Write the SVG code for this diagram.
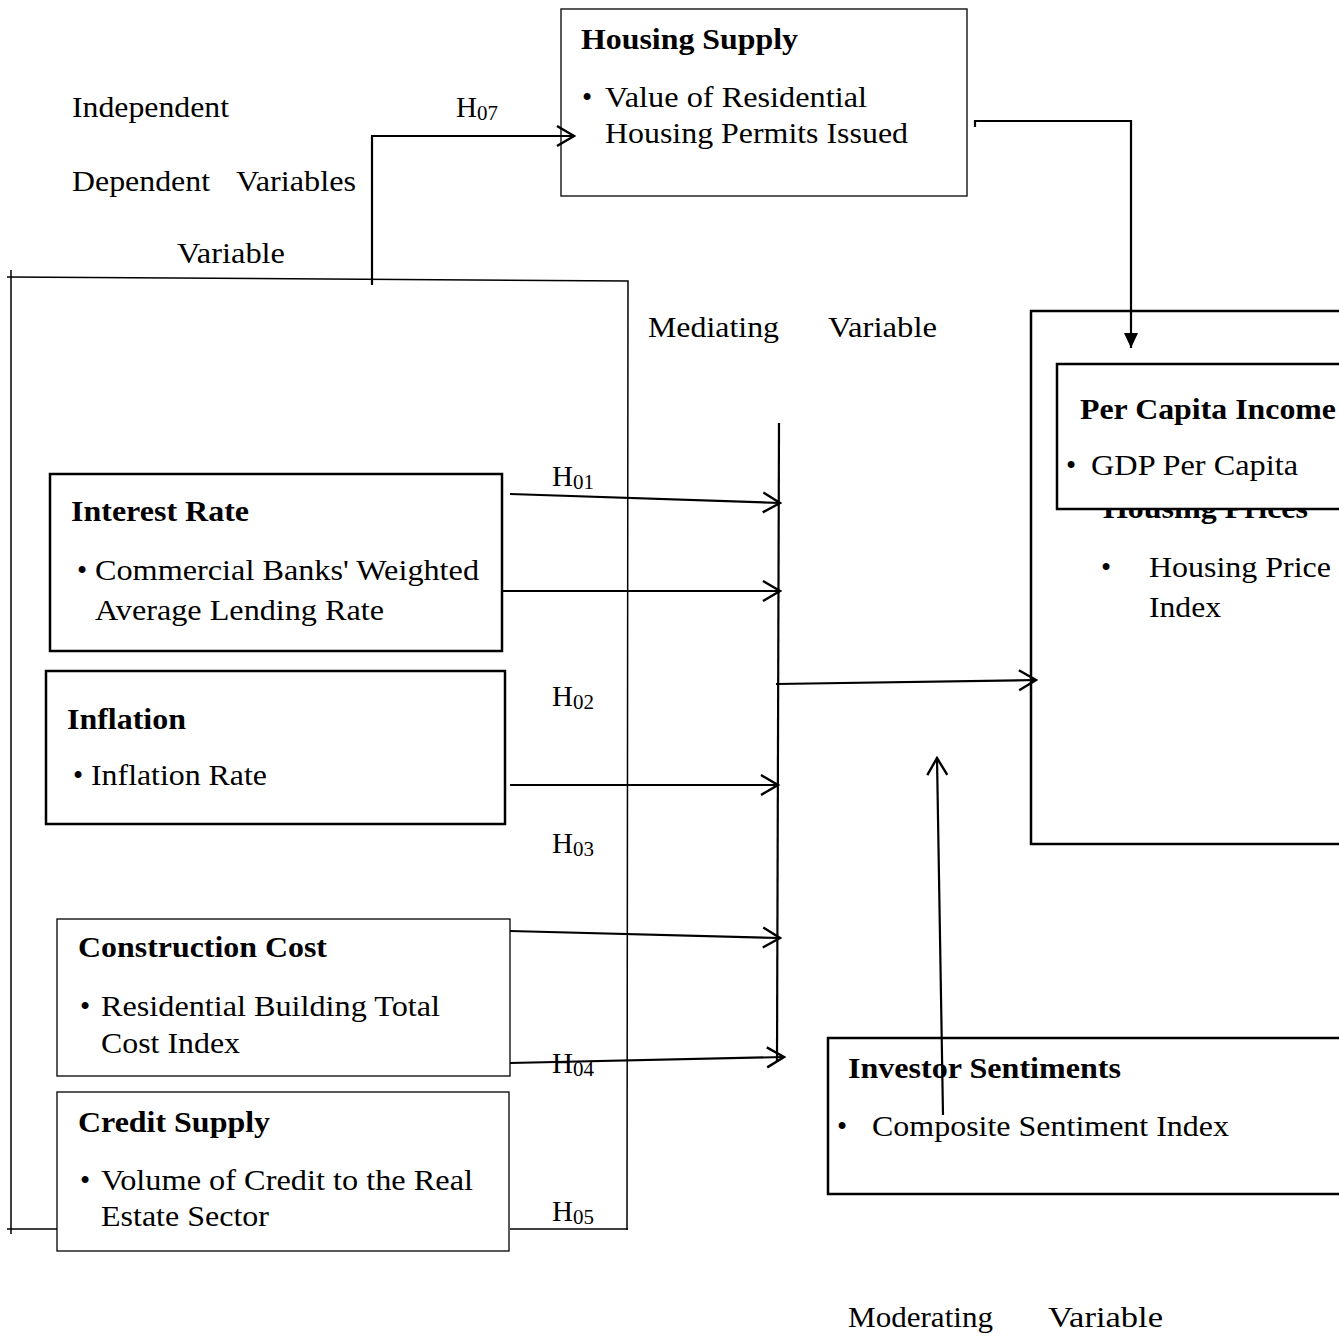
<svg xmlns="http://www.w3.org/2000/svg" width="1339" height="1336" viewBox="0 0 1339 1336">
<style>
text{font-family:"Liberation Serif","Times New Roman",serif;font-size:29px;fill:#000}
.b{font-weight:bold}
.sub{font-size:21px}
.thick{fill:#fff;stroke:#000;stroke-width:2.5}
.thin{fill:#fff;stroke:#000;stroke-width:1.3}
.frame{fill:none;stroke:#000;stroke-width:1.5}
.arr{fill:none;stroke:#000;stroke-width:2.2}
</style>
<defs>
<marker id="open" viewBox="-20 -12 22 24" markerWidth="22" markerHeight="24" refX="0" refY="0" orient="auto" markerUnits="userSpaceOnUse">
<path d="M-17,-10 L0,0 L-17,10" fill="none" stroke="#000" stroke-width="2.4"/>
</marker>
<marker id="fill" viewBox="-16 -8 17 16" markerWidth="17" markerHeight="16" refX="0" refY="0" orient="auto" markerUnits="userSpaceOnUse">
<path d="M-15,-7 L0,0 L-15,7 Z" fill="#000"/>
</marker>
</defs>
<rect width="1339" height="1336" fill="#fff"/>

<g id="labels">
<text x="72" y="117" textLength="157" lengthAdjust="spacingAndGlyphs">Independent</text>
<text x="72" y="191" textLength="138" lengthAdjust="spacingAndGlyphs">Dependent</text>
<text x="236" y="191" textLength="120" lengthAdjust="spacingAndGlyphs">Variables</text>
<text x="177" y="263" textLength="108" lengthAdjust="spacingAndGlyphs">Variable</text>
<text x="648" y="337" textLength="131" lengthAdjust="spacingAndGlyphs">Mediating</text>
<text x="828" y="337" textLength="109" lengthAdjust="spacingAndGlyphs">Variable</text>
<text x="848" y="1327" textLength="145" lengthAdjust="spacingAndGlyphs">Moderating</text>
<text x="1048" y="1327" textLength="115" lengthAdjust="spacingAndGlyphs">Variable</text>
<text x="456" y="117">H<tspan class="sub" dy="3">07</tspan></text>
<text x="552" y="486">H<tspan class="sub" dy="3">01</tspan></text>
<text x="552" y="706">H<tspan class="sub" dy="3">02</tspan></text>
<text x="552" y="853">H<tspan class="sub" dy="3">03</tspan></text>
<text x="552" y="1221">H<tspan class="sub" dy="3">05</tspan></text>
</g>

<g id="frame">
<path class="frame" d="M7,277 L628,281 L627,1230"/>
<path class="frame" d="M11,270 L11,1234"/>
<path class="frame" d="M7,1229 L57,1229"/>
<path class="frame" d="M510,1229 L628,1229"/>
</g>

<g id="housing-prices">
<rect class="thick" x="1031" y="311" width="320" height="533"/>
<text class="b" x="1103" y="518" textLength="205" lengthAdjust="spacingAndGlyphs">Housing Prices</text>
<text x="1101" y="577">•</text>
<text x="1149" y="577" textLength="182" lengthAdjust="spacingAndGlyphs">Housing Price</text>
<text x="1149" y="617" textLength="72" lengthAdjust="spacingAndGlyphs">Index</text>
</g>

<g id="per-capita-income">
<rect class="thick" x="1057" y="364" width="300" height="145"/>
<text class="b" x="1080" y="419" textLength="256" lengthAdjust="spacingAndGlyphs">Per Capita Income</text>
<text x="1066" y="475">•</text>
<text x="1091" y="475" textLength="207" lengthAdjust="spacingAndGlyphs">GDP Per Capita</text>
</g>

<g id="housing-supply">
<rect class="thin" x="561" y="9" width="406" height="187"/>
<text class="b" x="581" y="49" textLength="217" lengthAdjust="spacingAndGlyphs">Housing Supply</text>
<text x="582" y="107">•</text>
<text x="605" y="107" textLength="262" lengthAdjust="spacingAndGlyphs">Value of Residential</text>
<text x="605" y="143" textLength="303" lengthAdjust="spacingAndGlyphs">Housing Permits Issued</text>
</g>

<g id="interest-rate">
<rect class="thick" x="50" y="474" width="452" height="177"/>
<text class="b" x="71" y="521" textLength="178" lengthAdjust="spacingAndGlyphs">Interest Rate</text>
<text x="77" y="580">•</text>
<text x="95" y="580" textLength="384" lengthAdjust="spacingAndGlyphs">Commercial Banks' Weighted</text>
<text x="95" y="620" textLength="289" lengthAdjust="spacingAndGlyphs">Average Lending Rate</text>
</g>

<g id="inflation">
<rect class="thick" x="46" y="671" width="459" height="153"/>
<text class="b" x="67" y="729" textLength="119" lengthAdjust="spacingAndGlyphs">Inflation</text>
<text x="73" y="785">•</text>
<text x="91" y="785" textLength="176" lengthAdjust="spacingAndGlyphs">Inflation Rate</text>
</g>

<g id="construction-cost">
<rect class="thin" x="57" y="919" width="453" height="157"/>
<text class="b" x="78" y="957" textLength="249" lengthAdjust="spacingAndGlyphs">Construction Cost</text>
<text x="80" y="1016">•</text>
<text x="101" y="1016" textLength="339" lengthAdjust="spacingAndGlyphs">Residential Building Total</text>
<text x="101" y="1053" textLength="139" lengthAdjust="spacingAndGlyphs">Cost Index</text>
</g>

<g id="credit-supply">
<rect class="thin" x="57" y="1092" width="452" height="159"/>
<text class="b" x="78" y="1132" textLength="192" lengthAdjust="spacingAndGlyphs">Credit Supply</text>
<text x="80" y="1190">•</text>
<text x="101" y="1190" textLength="372" lengthAdjust="spacingAndGlyphs">Volume of Credit to the Real</text>
<text x="101" y="1226" textLength="168" lengthAdjust="spacingAndGlyphs">Estate Sector</text>
</g>

<g id="investor-sentiments">
<rect class="thick" x="828" y="1038" width="520" height="156"/>
<text class="b" x="848" y="1078" textLength="273" lengthAdjust="spacingAndGlyphs">Investor Sentiments</text>
<text x="837" y="1136">•</text>
<text x="872" y="1136" textLength="357" lengthAdjust="spacingAndGlyphs">Composite Sentiment Index</text>
</g>

<g id="connectors">
<path class="arr" d="M372,285 L372,136 L574,136" marker-end="url(#open)"/>
<path class="arr" d="M975,127 L975,121 L1131,121 L1131,348" marker-end="url(#fill)"/>
<path class="arr" d="M779,423 L777,1062"/>
<path class="arr" d="M510,494 L780,503" marker-end="url(#open)"/>
<path class="arr" d="M502,591 L780,591" marker-end="url(#open)"/>
<path class="arr" d="M510,785 L778,785" marker-end="url(#open)"/>
<path class="arr" d="M510,931 L780,938" marker-end="url(#open)"/>
<path class="arr" d="M510,1063 L784,1057" marker-end="url(#open)"/>
<path class="arr" d="M776,684 L1036,680" marker-end="url(#open)"/>
<path class="arr" d="M943,1115 L937,758" marker-end="url(#open)"/>
</g>
<g id="label-h04">
<text x="552" y="1073">H<tspan class="sub" dy="3">04</tspan></text>
</g>
</svg>
